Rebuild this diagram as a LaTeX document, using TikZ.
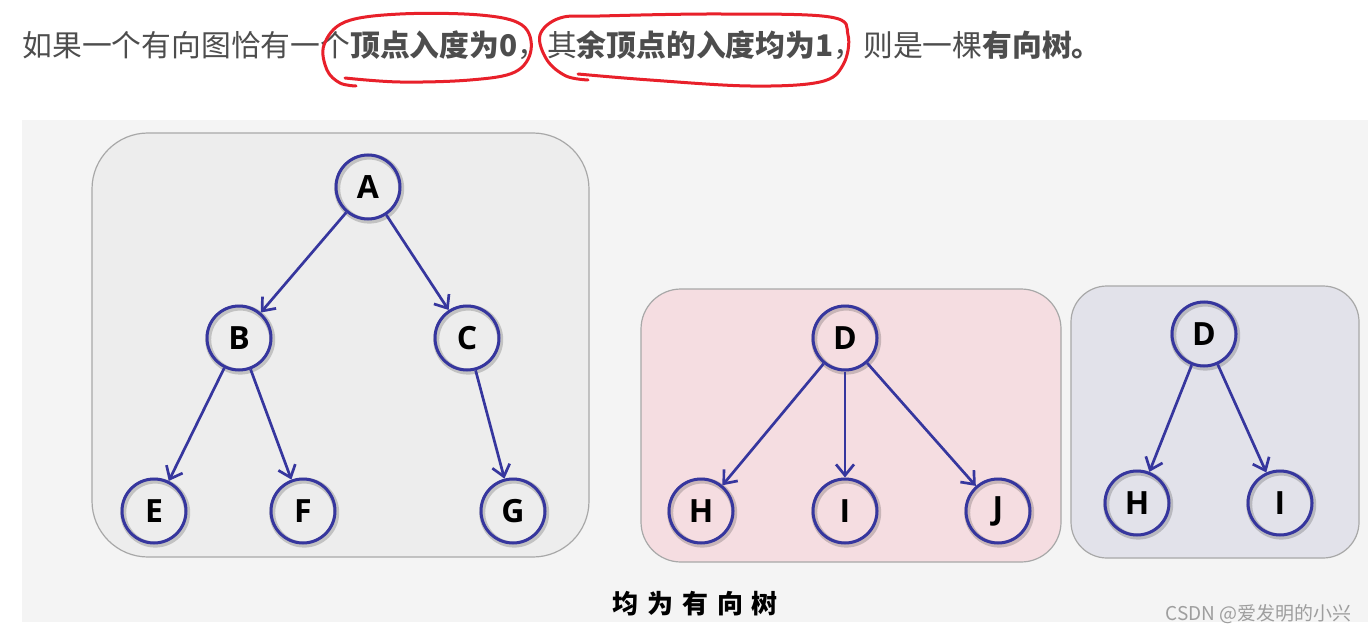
\documentclass[tikz,border=0pt]{standalone}
\usepackage{fontspec}
\setmainfont{Open Sans}
\newfontfamily\cjk{Noto Sans CJK SC}
\usetikzlibrary{arrows.meta}
\definecolor{txtgray}{HTML}{4D4D4D}
\definecolor{panel}{HTML}{F4F4F4}
\definecolor{boxone}{HTML}{EDEDED}
\definecolor{boxtwo}{HTML}{F5DDE1}
\definecolor{boxthree}{HTML}{E2E2EA}
\definecolor{boxline}{HTML}{A8A8A8}
\definecolor{navy}{HTML}{36369E}
\definecolor{markred}{HTML}{E8202A}
\definecolor{wm}{HTML}{9E9E9E}
\tikzset{
  vert/.style={circle, draw=navy, line width=1.5pt, minimum size=32pt, inner sep=0pt,
    font=\fontsize{16pt}{18pt}\selectfont\bfseries,
    preaction={draw=black, draw opacity=0.18, line width=3pt, transform canvas={shift={(0.6pt,-0.8pt)}}}},
  edge/.style={draw=navy, line width=1.35pt, -{Straight Barb[length=5.5pt,width=9pt,line width=1.35pt]}},
  panelbox/.style={draw=boxline, line width=0.6pt},
  loop/.style={draw=markred, line width=1.5pt, line cap=round, line join=round}
}
\begin{document}
\begin{tikzpicture}[x=0.5pt,y=-0.5pt]
\useasboundingbox (0,0) rectangle (1368,636);
\fill[white] (0,0) rectangle (1368,636);
% top sentence
\node[anchor=west, inner sep=0pt, text=txtgray] (sent) at (22,45)
  {\cjk\fontsize{14.9pt}{18pt}\selectfont 如果一个有向图恰有一个\textbf{顶点入度为0}，其\textbf{余顶点的入度均为1}，则是一棵\textbf{有向树。}};
% red hand-drawn marks
\draw[loop] plot[smooth, tension=0.6] coordinates {(345,78) (400,82) (470,80) (515,72) (531,50) (522,25) (480,15) (400,14) (345,22) (324,45) (327,70) (340,83) (356,86)};
\draw[loop] plot[smooth, tension=0.6] coordinates {(578,74) (650,80) (750,86) (820,82) (843,65) (848,35) (830,17) (720,14) (600,16) (560,18) (540,35) (547,60) (566,76) (588,80)};
% panel
\fill[panel] (22,120) rectangle (1368,622);
% boxes
\filldraw[panelbox, fill=boxone, rounded corners=28pt] (92,133) rectangle (589,557);
\filldraw[panelbox, fill=boxtwo, rounded corners=20pt] (641,289) rectangle (1061,562);
\filldraw[panelbox, fill=boxthree, rounded corners=18pt] (1071,286) rectangle (1359,558);
% tree 1
\node[vert] (A) at (368,187) {A};
\node[vert] (B) at (239,338) {B};
\node[vert] (C) at (467,338) {C};
\node[vert] (E) at (154,511) {E};
\node[vert] (F) at (303,511) {F};
\node[vert] (G) at (513,511) {G};
\draw[edge] (A) -- (B);
\draw[edge] (A) -- (C);
\draw[edge] (B) -- (E);
\draw[edge] (B) -- (F);
\draw[edge] (C) -- (G);
% tree 2
\node[vert] (D) at (845,338) {D};
\node[vert] (H) at (701,511) {H};
\node[vert] (I) at (845,511) {I};
\node[vert] (J) at (998,511) {J};
\draw[edge] (D) -- (H);
\draw[edge] (D) -- (I);
\draw[edge] (D) -- (J);
% tree 3
\node[vert] (D2) at (1204,334) {D};
\node[vert] (H2) at (1137,503) {H};
\node[vert] (I2) at (1280,503) {I};
\draw[edge] (D2) -- (H2);
\draw[edge] (D2) -- (I2);
% caption
\node[inner sep=0pt] (cap) at (695,604) {\cjk\fontsize{13pt}{16pt}\selectfont\bfseries 均\hspace{4.5pt}为\hspace{4.5pt}有\hspace{4.5pt}向\hspace{4.5pt}树};
% watermark
\node[anchor=east, inner sep=0pt, text=wm] (mark) at (1352,614) {\cjk\fontsize{9.5pt}{11pt}\selectfont CSDN @爱发明的小兴};
\end{tikzpicture}
\end{document}
